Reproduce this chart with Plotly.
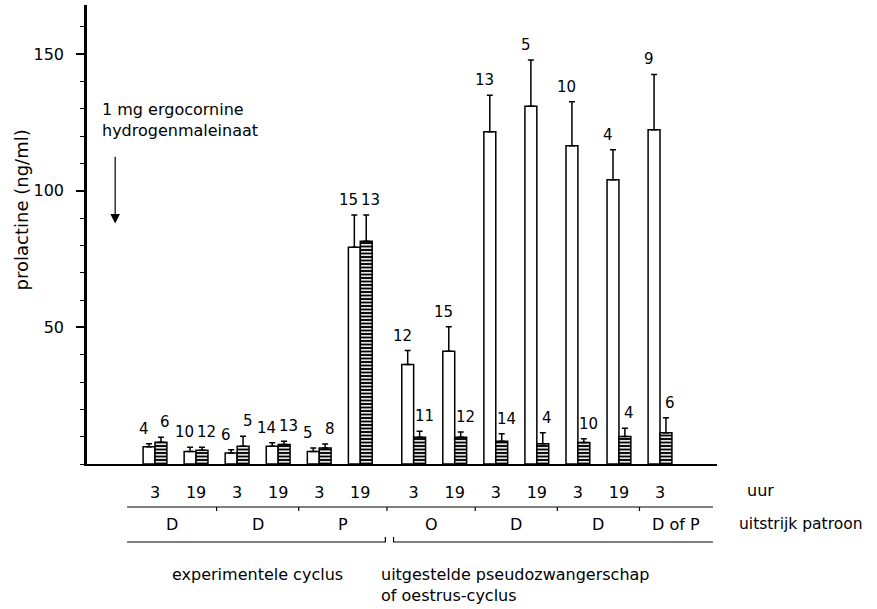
import plotly.graph_objects as go

# ---------------- data ----------------
hours = ["3", "19", "3", "19", "3", "19", "3", "19", "3", "19", "3", "19", "3"]
white_mean = [6.3, 4.6, 4.0, 6.5, 4.6, 79.3, 36.4, 41.3, 121.6, 130.9, 116.5, 104.0, 122.3]
white_err = [1.1, 1.5, 1.2, 1.3, 1.3, 11.8, 5.1, 8.9, 13.4, 17.0, 16.1, 11.0, 20.3]
white_n = [4, 10, 6, 14, 5, 15, 12, 15, 13, 5, 10, 4, 9]
hatch_mean = [8.0, 5.0, 6.5, 7.1, 5.9, 81.5, 9.8, 9.8, 8.3, 7.4, 7.9, 10.1, 11.4]
hatch_err = [1.8, 1.1, 3.7, 1.2, 1.4, 9.6, 2.2, 1.9, 2.8, 4.0, 1.3, 3.0, 5.5]
hatch_n = [6, 12, 5, 13, 8, 13, 11, 12, 14, 4, 10, 4, 6]
stages = ["D", "D", "P", "O", "D", "D", "D of P"]
stage_first_group = [0, 2, 4, 6, 8, 10, 12]
stage_last_group = [1, 3, 5, 7, 9, 11, 12]
phase_left = "experimentele cyclus"
phase_right = "uitgestelde pseudozwangerschap<br>of oestrus-cyclus"
y_ticks = [50, 100, 150]

# ---------------- layout helpers ----------------
GAP = 0.3            # extra space between the two phases
FIRST_RIGHT = 6      # first group of second phase
pos = [i + (GAP if i >= FIRST_RIGHT else 0) for i in range(len(hours))]
BW = 0.29
FONT = "DejaVu Sans"
W, H = 877, 609
ML, MR, MT, MB = 87, 160, 5, 145
plot_h = H - MT - MB
TXT = dict(size=16, family=FONT, color="black")


def py(p):
    """pixel row -> paper y"""
    return (H - MB - p) / plot_h


left_edge = pos[0] - 0.68
right_edge = pos[-1] + 1.29
bounds = [left_edge] + [(pos[i] + pos[i + 1]) / 2 for i in stage_last_group[:-1]] + [right_edge]

fig = go.Figure()

fig.add_trace(go.Bar(
    x=pos, y=white_mean, width=BW, offset=-BW,
    marker=dict(color="white", line=dict(color="black", width=1.5)),
    error_y=dict(type="data", symmetric=False, array=white_err,
                 arrayminus=[0] * len(white_err), color="black", thickness=1.5, width=3),
    showlegend=False,
))
fig.add_trace(go.Bar(
    x=pos, y=hatch_mean, width=BW, offset=0,
    marker=dict(color="white", line=dict(color="black", width=1.5),
                pattern=dict(shape="-", bgcolor="black", fgcolor="white",
                             size=3.5, solidity=0.45, fillmode="replace")),
    error_y=dict(type="data", symmetric=False, array=hatch_err,
                 arrayminus=[0] * len(hatch_err), color="black", thickness=1.5, width=3),
    showlegend=False,
))

ann = []
NFONT = dict(size=15, family=FONT, color="black")
for i in range(len(hours)):
    ann.append(dict(x=pos[i] - BW / 2 - 0.13, y=white_mean[i] + white_err[i], xref="x", yref="y",
                    text=str(white_n[i]), showarrow=False, yanchor="bottom", yshift=4,
                    font=NFONT))
    ann.append(dict(x=pos[i] + BW / 2 + 0.11, y=hatch_mean[i] + hatch_err[i], xref="x", yref="y",
                    text=str(hatch_n[i]), showarrow=False, yanchor="bottom", yshift=4,
                    font=NFONT))

# stage labels
for k, s in enumerate(stages):
    ann.append(dict(x=(bounds[k] + bounds[k + 1]) / 2, y=py(524), xref="x", yref="paper",
                    yanchor="middle", text=s, showarrow=False, font=TXT))

# row titles
ann.append(dict(x=1, y=py(490), xref="paper", yref="paper", xanchor="left", yanchor="middle",
                xshift=28, text="uur", showarrow=False, font=TXT))
ann.append(dict(x=1, y=py(524), xref="paper", yref="paper", xanchor="left", yanchor="middle",
                xshift=20, text="uitstrijk patroon", showarrow=False,
                font=dict(size=15.5, family=FONT, color="black")))

# phase labels
mid_left = sum(pos[:FIRST_RIGHT]) / FIRST_RIGHT
ann.append(dict(x=mid_left, y=py(574), xref="x", yref="paper", yanchor="middle", text=phase_left,
                showarrow=False, font=TXT))
ann.append(dict(x=bounds[3], y=py(563), xref="x", yref="paper", text=phase_right, xanchor="left",
                xshift=-8, yanchor="top", align="left", showarrow=False, font=TXT))

# y title
ann.append(dict(x=0, y=93, xref="paper", yref="y", xshift=-78, yanchor="middle",
                text="prolactine (ng/ml)", textangle=-90, showarrow=False,
                font=dict(size=18, family=FONT, color="black")))

# treatment note + arrow
ann.append(dict(x=pos[0] - 1.35, y=126, xref="x", yref="y", xanchor="left", yanchor="middle",
                text="1 mg ergocornine<br>hydrogenmaleinaat", align="left", showarrow=False,
                font=TXT))
ann.append(dict(x=pos[0] - 0.97, y=88, ax=pos[0] - 0.97, ay=113, xref="x", yref="y",
                axref="x", ayref="y", text="", showarrow=True, arrowhead=2, arrowsize=1.6,
                arrowwidth=1.2, arrowcolor="black"))

shapes = []
# upper bracket line with division ticks
shapes.append(dict(type="line", xref="x", yref="paper", x0=left_edge, x1=right_edge,
                   y0=py(507), y1=py(507), line=dict(color="black", width=1.2)))
for b in bounds[1:-1]:
    shapes.append(dict(type="line", xref="x", yref="paper", x0=b, x1=b,
                       y0=py(507), y1=py(511), line=dict(color="black", width=1.2)))
# lower bracket lines
split = bounds[3]
shapes.append(dict(type="path", xref="x", yref="paper",
                   path=f"M {left_edge},{py(542)} L {split - 0.04},{py(542)} L {split - 0.04},{py(537)}",
                   line=dict(color="black", width=1.2)))
shapes.append(dict(type="path", xref="x", yref="paper",
                   path=f"M {split + 0.16},{py(537)} L {split + 0.16},{py(542)} L {right_edge},{py(542)}",
                   line=dict(color="black", width=1.2)))

fig.update_layout(
    width=W, height=H,
    margin=dict(l=ML, r=MR, t=MT, b=MB),
    paper_bgcolor="white", plot_bgcolor="white",
    barmode="overlay",
    font=dict(family=FONT, size=15, color="black"),
    annotations=ann, shapes=shapes,
    xaxis=dict(range=[pos[0] - 1.656, pos[-1] + 1.388], tickmode="array", tickvals=pos,
               ticktext=hours, ticks="", showline=True, linecolor="black", linewidth=2,
               showgrid=False, zeroline=False, ticklabelstandoff=13,
               tickfont=dict(size=16, family=FONT, color="black")),
    yaxis=dict(range=[0, 168], tickmode="array", tickvals=y_ticks, ticks="outside",
               ticklen=8, tickwidth=1.5, tickcolor="black", showline=True, linecolor="black",
               linewidth=2.5, showgrid=False, zeroline=False, ticklabelstandoff=9,
               minor=dict(dtick=10, tick0=0, ticks="outside", ticklen=4, tickcolor="black", tickwidth=1),
               tickfont=dict(size=16, family=FONT, color="black")),
)

fig.write_html("out.html")
